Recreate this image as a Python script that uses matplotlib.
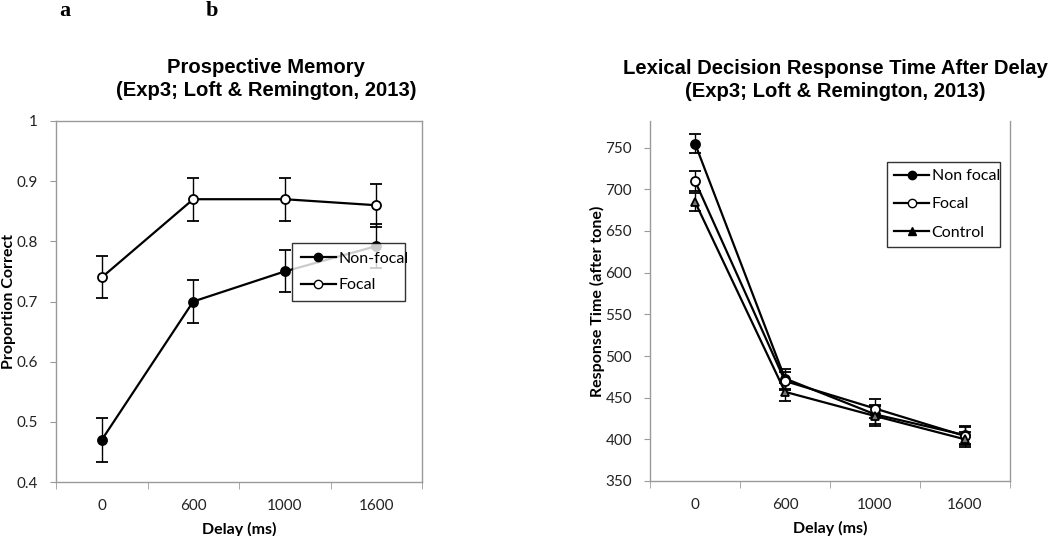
import matplotlib
matplotlib.use("Agg")
import matplotlib.pyplot as plt
from matplotlib.lines import Line2D
import numpy as np

# ---------------- data ----------------
delays = ["0", "600", "1000", "1600"]

pm_nonfocal = [0.47, 0.70, 0.75, 0.792]
pm_nonfocal_err = [0.036, 0.036, 0.035, 0.036]
pm_focal = [0.74, 0.87, 0.87, 0.86]
pm_focal_err = [0.035, 0.036, 0.036, 0.036]
pm_yticks = [0.4, 0.5, 0.6, 0.7, 0.8, 0.9, 1.0]
pm_yticklabels = ["0.4", "0.5", "0.6", "0.7", "0.8", "0.9", "1"]

rt_nonfocal = [755, 473, 430, 405]
rt_nonfocal_err = [11, 12, 11, 11]
rt_focal = [710, 470, 437, 404]
rt_focal_err = [12, 11, 11, 11]
rt_control = [685, 457, 428, 400]
rt_control_err = [11, 11, 12, 9]
rt_yticks = [350, 400, 450, 500, 550, 600, 650, 700, 750]

W, H = 1050, 536
fig = plt.figure(figsize=(W / 100, H / 100), dpi=100)

TICK_FONT = dict(family="Lato", size=11, color="#222222")
LAB_FONT = dict(family="Lato", size=11.5, weight="bold")
LEG_FONT = dict(family="Lato", size=11.5)
SPINE_C = "#9a9a9a"


def px_axes(x0, y0, x1, y1):
    return fig.add_axes([x0 / W, 1 - y1 / H, (x1 - x0) / W, (y1 - y0) / H])


def style_axes(ax, top=True):
    for s in ["left", "bottom", "right", "top"]:
        ax.spines[s].set_color(SPINE_C)
        ax.spines[s].set_linewidth(1.0)
    ax.spines["top"].set_visible(top)
    ax.set_xlim(-0.5, len(delays) - 0.5)
    ax.set_xticks(range(len(delays)))
    ax.set_xticklabels(delays, **TICK_FONT)
    ax.tick_params(axis="x", which="major", length=0, pad=12)
    ax.set_xticks(np.arange(-0.5, len(delays), 1.0), minor=True)
    ax.tick_params(axis="x", which="minor", length=5, direction="out", color=SPINE_C)
    ax.tick_params(axis="y", length=4, direction="out", color=SPINE_C, pad=9)


def series(ax, x, y, err, marker, mfc, ms):
    ax.errorbar(x, y, yerr=err, color="black", lw=1.6, marker=marker, ms=ms,
                mfc=mfc, mec="black", mew=1.3, ecolor="black", elinewidth=1.0,
                capsize=4.5, capthick=1.0)


def handle(marker, mfc, ms):
    return Line2D([], [], color="black", lw=1.6, marker=marker, ms=ms,
                  mfc=mfc, mec="black", mew=1.0)


def add_legend(ax, handles, labels, box, borderpad, labelspacing):
    x0, y0, w, h = box
    leg = ax.legend(handles, labels, loc="upper left",
                    bbox_to_anchor=(x0 / W, 1 - y0 / H, w / W, h / H),
                    bbox_transform=fig.transFigure, mode="expand",
                    prop=LEG_FONT, frameon=True, fancybox=False,
                    edgecolor="black", handlelength=2.2, handletextpad=0.15,
                    labelspacing=labelspacing, borderpad=borderpad,
                    borderaxespad=0)
    leg.get_frame().set_linewidth(1.0)
    return leg


x = np.arange(len(delays))

# ---------------- panel a ----------------
ax1 = px_axes(56, 121, 422, 482)
style_axes(ax1, top=True)
series(ax1, x, pm_nonfocal, pm_nonfocal_err, "o", "black", 6.5)
series(ax1, x, pm_focal, pm_focal_err, "o", "white", 6.5)
ax1.set_ylim(0.4, 1.0)
ax1.set_yticks(pm_yticks)
ax1.set_yticklabels(pm_yticklabels, **TICK_FONT)
ax1.set_ylabel("Proportion Correct", va="center", **LAB_FONT)
ax1.yaxis.set_label_coords((9 - 56) / 366, 0.5)
ax1.set_xlabel("Delay (ms)", labelpad=7, **LAB_FONT)
add_legend(ax1, [handle("o", "black", 6), handle("o", "white", 6)],
           ["Non-focal", "Focal"], (292, 304, 113, 61), 0.55, 0.75)

fig.text(266 / W, 1 - 79 / H,
         "Prospective Memory\n(Exp3; Loft & Remington, 2013)",
         ha="center", va="center", family="Liberation Sans", weight="bold",
         size=14.6, linespacing=1.28)

# ---------------- panel b ----------------
ax2 = px_axes(650, 121, 1010, 481)
style_axes(ax2, top=False)
series(ax2, x, rt_nonfocal, rt_nonfocal_err, "o", "black", 6.5)
series(ax2, x, rt_focal, rt_focal_err, "o", "white", 6.5)
series(ax2, x, rt_control, rt_control_err, "^", "#777777", 5.5)
ax2.set_ylim(350, 782)
ax2.set_yticks(rt_yticks)
ax2.set_yticklabels([str(v) for v in rt_yticks], **TICK_FONT)
ax2.set_ylabel("Response Time (after tone)", va="center", **LAB_FONT)
ax2.yaxis.set_label_coords((597 - 650) / 360, 0.5)
ax2.set_xlabel("Delay (ms)", labelpad=7, **LAB_FONT)
add_legend(ax2, [handle("o", "black", 6), handle("o", "white", 6),
                 handle("^", "black", 5.5)],
           ["Non focal", "Focal", "Control"], (887, 252, 113, 90), 0.45, 0.87)

fig.text(835 / W, 1 - 80 / H,
         "Lexical Decision Response Time After Delay\n(Exp3; Loft & Remington, 2013)",
         ha="center", va="center", family="Liberation Sans", weight="bold",
         size=14.6, linespacing=1.28)

# panel letters
fig.text(65 / W, 1 - 11 / H, "a", ha="center", va="center",
         family="Liberation Serif", weight="bold", size=16)
fig.text(212 / W, 1 - 11 / H, "b", ha="center", va="center",
         family="Liberation Serif", weight="bold", size=16)

fig.savefig("out.png", dpi=100)
